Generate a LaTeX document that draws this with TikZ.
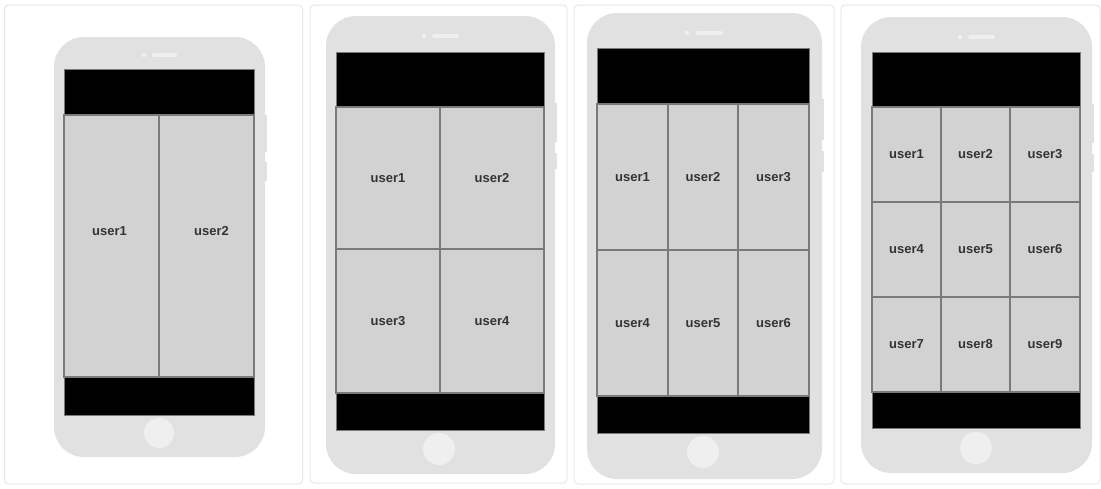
\documentclass[tikz,border=0pt]{standalone}
\usepackage{fontspec}
\setmainfont{Liberation Sans}
\definecolor{cardline}{HTML}{E8E8E8}
\definecolor{body}{HTML}{E1E1E1}
\definecolor{homebtn}{HTML}{EFEFEF}
\definecolor{cellfill}{HTML}{D2D2D2}
\definecolor{cellline}{HTML}{7A7A7A}
\definecolor{txt}{HTML}{333333}
\tikzset{
  card/.style={draw=cardline, line width=1pt, fill=white, rounded corners=4pt},
  phonebody/.style={fill=body, draw=none, rounded corners=30pt},
  sidebtn/.style={fill=body, draw=none},
  bar/.style={fill=black, draw=cellline, line width=0.8pt},
  cell/.style={fill=cellfill, draw=cellline, line width=1.3pt, text=txt, font=\fontsize{13}{15}\selectfont\bfseries, inner sep=0pt},
  lbl/.style={text=txt, font=\fontsize{13}{15}\selectfont\bfseries, inner sep=0pt},
  homebutton/.style={fill=homebtn, draw=none, circle},
  speaker/.style={fill=homebtn, draw=none, rounded corners=2pt},
}
\begin{document}
\begin{tikzpicture}[x=1pt,y=-1pt]
\useasboundingbox (0,0) rectangle (1101,488);
\fill[white] (0,0) rectangle (1101,488);
% cards
\draw[card] (4.5,5) rectangle (302.5,484);
\draw[card] (310,5) rectangle (567,483);
\draw[card] (574,5) rectangle (834,484);
\draw[card] (841,5) rectangle (1100,484);

% ===== Phone 1 =====
\fill[sidebtn] (264,115) rectangle (267,152);
\fill[sidebtn] (264,162) rectangle (267,181);
\fill[phonebody] (54,37) rectangle (265,457);
\fill[homebtn] (144,55) circle (2.2);
\fill[speaker] (152,53) rectangle (177,57);
\draw[bar] (64,69) rectangle (254,115);
\draw[bar] (64,377) rectangle (254,415);
\node[cell, minimum width=95pt, minimum height=262pt] (a1) at (111.5,246) {};
\node[cell, minimum width=95pt, minimum height=262pt] (a2) at (206.5,246) {};
\node[lbl] (a1t) at (109.5,231) {user1};
\node[lbl] (a2t) at (211.5,231) {user2};
\node[homebutton, minimum size=30pt] (h1) at (159,433) {};

% ===== Phone 2 =====
\fill[sidebtn] (554,103) rectangle (557,142);
\fill[sidebtn] (554,153) rectangle (557,169);
\fill[phonebody] (326,16) rectangle (555,474);
\fill[homebtn] (424,36) circle (2.2);
\fill[speaker] (432,34) rectangle (459,38);
\draw[bar] (336,52) rectangle (544,107);
\draw[bar] (336,393) rectangle (544,430);
\node[cell, minimum width=104pt, minimum height=142pt] (b1) at (388,178) {user1};
\node[cell, minimum width=104pt, minimum height=142pt] (b2) at (492,178) {user2};
\node[cell, minimum width=104pt, minimum height=144pt] (b3) at (388,321) {user3};
\node[cell, minimum width=104pt, minimum height=144pt] (b4) at (492,321) {user4};
\node[homebutton, minimum size=32pt] (h2) at (439,449) {};

% ===== Phone 3 =====
\fill[sidebtn] (821,99) rectangle (824,140);
\fill[sidebtn] (821,151) rectangle (824,172);
\fill[phonebody] (587,13) rectangle (822,479);
\fill[homebtn] (687,33) circle (2.2);
\fill[speaker] (696,31) rectangle (723,35);
\draw[bar] (597,48) rectangle (809,104);
\draw[bar] (597,396) rectangle (809,433);
\node[cell, minimum width=71pt, minimum height=146pt] (c1) at (632.5,177) {user1};
\node[cell, minimum width=70pt, minimum height=146pt] (c2) at (703,177) {user2};
\node[cell, minimum width=71pt, minimum height=146pt] (c3) at (773.5,177) {user3};
\node[cell, minimum width=71pt, minimum height=146pt] (c4) at (632.5,323) {user4};
\node[cell, minimum width=70pt, minimum height=146pt] (c5) at (703,323) {user5};
\node[cell, minimum width=71pt, minimum height=146pt] (c6) at (773.5,323) {user6};
\node[homebutton, minimum size=32pt] (h3) at (703,452) {};

% ===== Phone 4 =====
\fill[sidebtn] (1091,104) rectangle (1094,143);
\fill[sidebtn] (1091,154) rectangle (1094,172);
\fill[phonebody] (861,17) rectangle (1092,473);
\fill[homebtn] (960,37) circle (2.2);
\fill[speaker] (968,35) rectangle (995,39);
\draw[bar] (872,52) rectangle (1080,107);
\draw[bar] (872,392) rectangle (1080,428);
\node[cell, minimum width=69pt, minimum height=95pt] (d1) at (906.5,154.5) {user1};
\node[cell, minimum width=69pt, minimum height=95pt] (d2) at (975.5,154.5) {user2};
\node[cell, minimum width=70pt, minimum height=95pt] (d3) at (1045,154.5) {user3};
\node[cell, minimum width=69pt, minimum height=95pt] (d4) at (906.5,249.5) {user4};
\node[cell, minimum width=69pt, minimum height=95pt] (d5) at (975.5,249.5) {user5};
\node[cell, minimum width=70pt, minimum height=95pt] (d6) at (1045,249.5) {user6};
\node[cell, minimum width=69pt, minimum height=95pt] (d7) at (906.5,344.5) {user7};
\node[cell, minimum width=69pt, minimum height=95pt] (d8) at (975.5,344.5) {user8};
\node[cell, minimum width=70pt, minimum height=95pt] (d9) at (1045,344.5) {user9};
\node[homebutton, minimum size=32pt] (h4) at (976,448) {};
\end{tikzpicture}
\end{document}
